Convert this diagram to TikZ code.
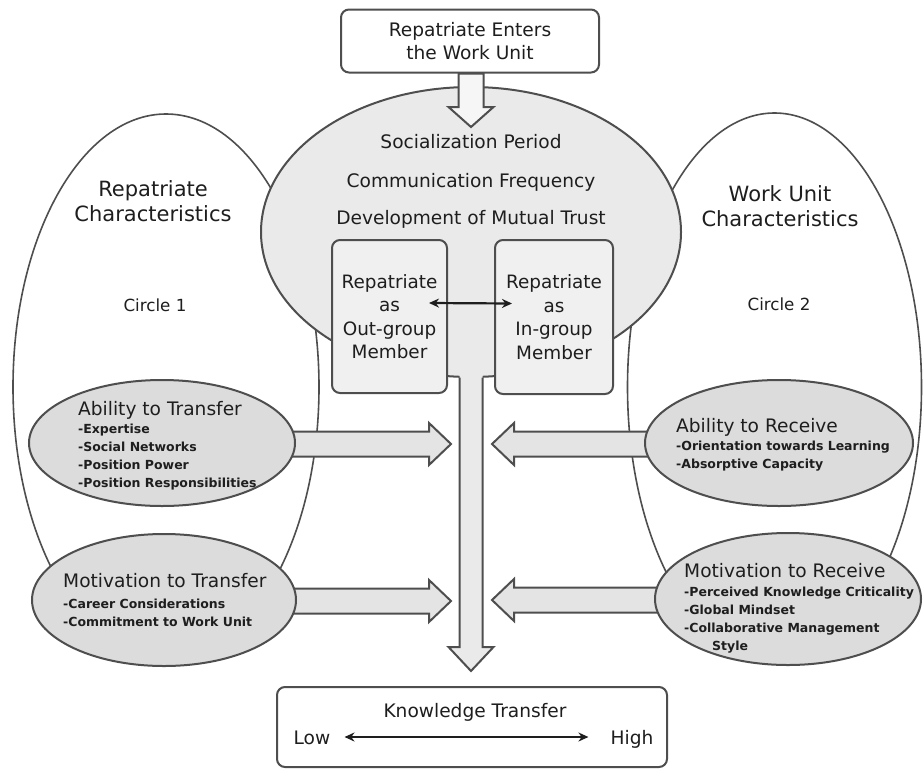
\documentclass[tikz,border=0pt]{standalone}
\usepackage{fontspec}
\setmainfont{DejaVu Sans}
\usetikzlibrary{shapes.geometric,arrows.meta,calc}

\definecolor{ink}{HTML}{1E1E1E}
\definecolor{edge}{HTML}{4E4E4E}
\definecolor{corefill}{HTML}{EAEAEA}
\definecolor{boxfill}{HTML}{F0F0F0}
\definecolor{ovalfill}{HTML}{DCDCDC}
\definecolor{arrfill}{HTML}{E4E4E4}
\definecolor{entryfill}{HTML}{F6F6F6}

\pgfdeclarelayer{backdrop}
\pgfdeclarelayer{socl}
\pgfdeclarelayer{flow}
\pgfsetlayers{backdrop,socl,flow,main}

\tikzset{
  every node/.style={text=ink, inner sep=0pt},
  txt/.style={font=\fontsize{18.6pt}{23pt}\selectfont},
  ovhead/.style={font=\fontsize{18.6pt}{23pt}\selectfont, anchor=base west},
  ovitem/.style={font=\bfseries\fontsize{12.5pt}{18pt}\selectfont, anchor=base west},
  ring/.style={ellipse, draw=edge, line width=1.6pt, fill=white},
  oval/.style={ellipse, draw=edge, line width=2pt, fill=ovalfill},
  card/.style={rectangle, rounded corners=8pt, draw=edge, line width=2pt},
  barrow/.style={draw=edge, line width=2pt, line join=miter, fill=arrfill},
  dbl/.style={{Stealth[length=10pt,width=9pt]}-{Stealth[length=10pt,width=9pt]}, line width=2.2pt, draw=ink}
}

\begin{document}
\begin{tikzpicture}[x=1pt,y=-1pt]
\useasboundingbox (0,0) rectangle (923,771);

% the two characteristic circles
\begin{pgfonlayer}{backdrop}
  \node[ring, minimum width=306pt, minimum height=546pt] (c1) at (166,387) {};
  \node[ring, minimum width=294pt, minimum height=548pt] (c2) at (774.5,387) {};
\end{pgfonlayer}

% socialization oval
\begin{pgfonlayer}{socl}
  \node[ellipse, draw=edge, line width=2pt, fill=corefill,
        minimum width=420pt, minimum height=290pt] (soc) at (471,232) {};
\end{pgfonlayer}

% entry box
\node[card, fill=white, minimum width=258pt, minimum height=63pt, align=center,
      font=\fontsize{18.6pt}{23pt}\selectfont] (entry) at (470,41)
      {Repatriate Enters\\the Work Unit};
\coordinate (entryTip) at (471,127);

% socialization texts
\node[txt, anchor=base] (sp) at (471,148) {Socialization Period};
\node[txt, anchor=base] (cf) at (471,187) {Communication Frequency};
\node[txt, anchor=base] (dt) at (471,224) {Development of Mutual Trust};

% group membership boxes
\node[card, fill=boxfill, minimum width=115pt, minimum height=153pt, align=center,
      font=\fontsize{18.4pt}{23.5pt}\selectfont] (outg) at (389.5,316.5)
      {Repatriate\\as\\Out-group\\Member};
\node[card, fill=boxfill, minimum width=118pt, minimum height=154pt, align=center,
      font=\fontsize{18.4pt}{23.5pt}\selectfont] (ing) at (554,317)
      {Repatriate\\as\\In-group\\Member};
\draw[dbl] ($(outg.east)+(-19,-13.5)$) -- ($(ing.west)+(18,-13.5)$);

% circle titles
\node[font=\fontsize{21pt}{25pt}\selectfont, align=center] (rc) at (153,201)
      {Repatriate\\Characteristics};
\node[font=\fontsize{21pt}{25pt}\selectfont, align=center] (wc) at (780,206)
      {Work Unit\\Characteristics};
\node[font=\fontsize{16.7pt}{20pt}\selectfont, anchor=base] (c1l) at (155,311) {Circle 1};
\node[font=\fontsize{16.7pt}{20pt}\selectfont, anchor=base] (c2l) at (779,310) {Circle 2};

% ability / motivation ovals
\node[oval, minimum width=266pt, minimum height=126pt] (abT) at (162,443) {};
\node[oval, minimum width=264pt, minimum height=132pt] (moT) at (164,600) {};
\node[oval, minimum width=268pt, minimum height=126pt] (abR) at (779,443) {};
\node[oval, minimum width=266pt, minimum height=132pt] (moR) at (788,599) {};

\node[ovhead] (abTh) at (78,415) {Ability to Transfer};
\foreach \lbl [count=\i] in {-Expertise,-Social Networks,-Position Power,-Position Responsibilities}
  \node[ovitem] (abT\i) at (78,{415+18*\i}) {\lbl};

\node[ovhead] (moTh) at (63,587) {Motivation to Transfer};
\node[ovitem] (moT1) at (63,608) {-Career Considerations};
\node[ovitem] (moT2) at (63,626) {-Commitment to Work Unit};

\node[ovhead] (abRh) at (676,432) {Ability to Receive};
\node[ovitem] (abR1) at (676,450) {-Orientation towards Learning};
\node[ovitem] (abR2) at (676,468) {-Absorptive Capacity};

\node[ovhead] (moRh) at (684,577) {Motivation to Receive};
\node[ovitem] (moR1) at (684,596) {-Perceived Knowledge Criticality};
\node[ovitem] (moR2) at (684,614) {-Global Mindset};
\node[ovitem] (moR3) at (684,632) {-Collaborative Management};
\node[ovitem] (moR4) at (712,650) {Style};

% knowledge transfer scale
\node[card, fill=white, minimum width=390pt, minimum height=80pt] (kt) at (472,727) {};
\node[txt, anchor=base] (ktl) at (475,717) {Knowledge Transfer};
\node[txt, anchor=base] (low) at (312,744) {Low};
\node[txt, anchor=base] (high) at (632,744) {High};
\draw[dbl] ($(low.base east)+(14,-7)$) -- ($(high.base west)+(-22,-7)$);

% arrow tips next to the central shaft
\coordinate (tAT) at (451,444);
\coordinate (tMT) at (451,601);
\coordinate (tAR) at (492,444);
\coordinate (tMR) at (492,600);

% block arrows
\begin{pgfonlayer}{flow}
  % entry arrow
  \path[barrow, fill=entryfill] let \p1=(entry.south), \p2=(entryTip) in
    (\x2-12.5pt,\y1) -- (\x2-12.5pt,\y2+20pt) -- (\x2-22.5pt,\y2+20pt) -- (\x2,\y2)
    -- (\x2+22.5pt,\y2+20pt) -- (\x2+12.5pt,\y2+20pt) -- (\x2+12.5pt,\y1) -- cycle;
  % central shaft down to the scale
  \fill[corefill] let \p1=(soc.south), \p2=(kt.north) in
    (\x1-11.5pt,\y1+60pt) -- (\x1-11.5pt,\y2+39pt) -- (\x1-22.5pt,\y2+39pt) -- (\x1,\y2+15pt)
    -- (\x1+22.5pt,\y2+39pt) -- (\x1+11.5pt,\y2+39pt) -- (\x1+11.5pt,\y1+60pt) -- cycle;
  \draw[draw=edge, line width=2pt, line join=miter] let \p1=(soc.south), \p2=(kt.north) in
    (\x1-11.5pt,\y1+0.5pt) -- (\x1-11.5pt,\y2+39pt) -- (\x1-22.5pt,\y2+39pt) -- (\x1,\y2+15pt)
    -- (\x1+22.5pt,\y2+39pt) -- (\x1+11.5pt,\y2+39pt) -- (\x1+11.5pt,\y1+0.5pt);
  % arrows from the left ovals
  \foreach \src/\tip in {abT/tAT, moT/tMT}
    \path[barrow] let \p1=(\src.center), \p2=(\tip) in
      (\x1,\y2+12.5pt) -- (\x2-22pt,\y2+12.5pt) -- (\x2-22pt,\y2+21pt) -- (\x2,\y2)
      -- (\x2-22pt,\y2-21pt) -- (\x2-22pt,\y2-12.5pt) -- (\x1,\y2-12.5pt) -- cycle;
  % arrows from the right ovals
  \foreach \src/\tip in {abR/tAR, moR/tMR}
    \path[barrow] let \p1=(\src.center), \p2=(\tip) in
      (\x1,\y2+12.5pt) -- (\x2+22pt,\y2+12.5pt) -- (\x2+22pt,\y2+21pt) -- (\x2,\y2)
      -- (\x2+22pt,\y2-21pt) -- (\x2+22pt,\y2-12.5pt) -- (\x1,\y2-12.5pt) -- cycle;
\end{pgfonlayer}
\end{tikzpicture}
\end{document}
